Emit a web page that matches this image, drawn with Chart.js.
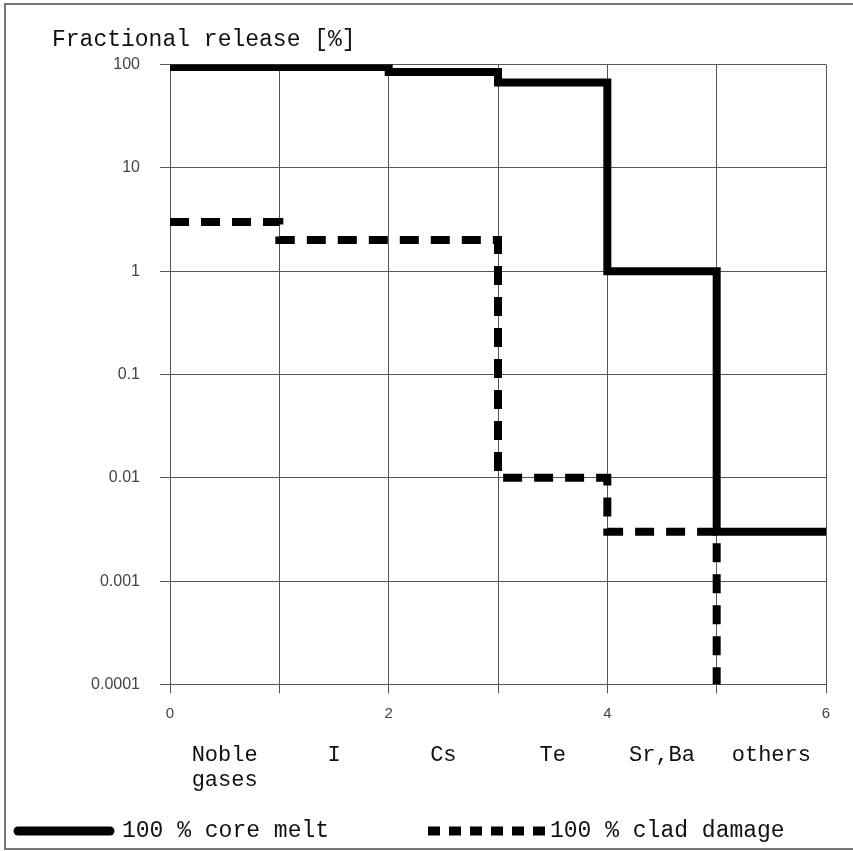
<!DOCTYPE html>
<html>
<head>
<meta charset="utf-8">
<script src="https://cdn.jsdelivr.net/npm/chart.js@4"></script>
<style>
  html, body { margin: 0; padding: 0; background: #fff; }
  #wrap { width: 853px; height: 851px; position: relative; }
</style>
</head>
<body>
<div id="wrap"><canvas id="chart" width="853" height="851"></canvas></div>
<script>
const categories = [['Noble', 'gases'], 'I', 'Cs', 'Te', 'Sr,Ba', 'others'];
const stepX = [0, 1, 2, 3, 4, 5, 6];
const coreMelt = [95, 95, 85, 67, 1, 0.003, 0.003];
const cladDamage = [3, 2, 2, 0.01, 0.003, 0.0001];
const yTicks = [100, 10, 1, 0.1, 0.01, 0.001, 0.0001];
const yTickLabels = ['100', '10', '1', '0.1', '0.01', '0.001', '0.0001'];
const xTickLabels = { 0: '0', 2: '2', 4: '4', 6: '6' };

const mono = "'Liberation Mono', 'DejaVu Sans Mono', monospace";
const sans = "'Liberation Sans', Arial, sans-serif";

// outer frame of the figure
const frame = {
    id: 'frame',
    beforeDraw(chart) {
        const ctx = chart.ctx;
        ctx.save();
        ctx.fillStyle = '#fff';
        ctx.fillRect(0, 0, chart.width, chart.height);
        ctx.strokeStyle = '#777';
        ctx.lineWidth = 2;
        ctx.beginPath();
        ctx.moveTo(853, 4);
        ctx.lineTo(5, 4);
        ctx.lineTo(5, 849);
        ctx.lineTo(853, 849);
        ctx.stroke();
        ctx.restore();
    }
};

// legend row at the bottom: long line samples, text in typewriter font
const legendSlots = [
    { from: 18, to: 110, text: 122, dash: [] },
    { from: 428, to: 545, text: 550, dash: [12, 9] }
];
const bottomLegend = {
    id: 'bottomLegend',
    afterDraw(chart) {
        const ctx = chart.ctx;
        const y = chart.height - 20;
        ctx.save();
        chart.data.datasets.forEach((ds, i) => {
            const slot = legendSlots[i];
            ctx.strokeStyle = ds.borderColor;
            ctx.lineWidth = 9;
            ctx.lineCap = slot.dash.length ? 'butt' : 'round';
            ctx.setLineDash(slot.dash);
            ctx.beginPath();
            ctx.moveTo(slot.from, y);
            ctx.lineTo(slot.to, y);
            ctx.stroke();
            ctx.setLineDash([]);
            ctx.fillStyle = '#111';
            ctx.font = '23px ' + mono;
            ctx.textBaseline = 'middle';
            ctx.fillText(ds.label, slot.text, y);
        });
        ctx.restore();
    }
};

new Chart(document.getElementById('chart').getContext('2d'), {
    type: 'line',
    data: {
        datasets: [{
            label: '100 % core melt',
            data: stepX.map((x, i) => ({ x: x, y: coreMelt[i] })),
            borderColor: '#000',
            backgroundColor: '#000',
            borderWidth: 8,
            stepped: true,
            pointRadius: 0,
            fill: false,
        }, {
            label: '100 % clad damage',
            data: cladDamage.map((v, i) => ({ x: stepX[i], y: v })),
            borderColor: '#000',
            backgroundColor: '#000',
            borderWidth: 8,
            borderDash: [19, 12],
            stepped: true,
            pointRadius: 0,
            fill: false,
        }]
    },
    options: {
        responsive: false,
        animation: false,
        layout: { padding: { left: 52, right: 27, top: 26, bottom: 49 } },
        plugins: {
            title: {
                display: true,
                text: 'Fractional release [%]',
                align: 'start',
                color: '#111',
                font: { family: mono, size: 23, weight: 'normal', lineHeight: 1.2 },
                padding: { top: 0, bottom: 11 }
            },
            legend: { display: false },
            tooltip: { enabled: false }
        },
        scales: {
            x: {
                type: 'linear',
                min: 0,
                max: 6,
                ticks: {
                    stepSize: 1,
                    color: '#444',
                    font: { family: sans, size: 15 },
                    padding: 11,
                    callback: v => xTickLabels[v] !== undefined ? xTickLabels[v] : ''
                },
                grid: { color: '#555', lineWidth: 1, tickLength: 9 },
                border: { color: '#555', width: 1 }
            },
            x2: {
                type: 'category',
                position: 'bottom',
                labels: categories,
                offset: true,
                grid: { display: false, drawTicks: false },
                border: { display: false },
                ticks: {
                    color: '#111',
                    font: { family: mono, size: 22, lineHeight: 1.15 },
                    padding: 9,
                    maxRotation: 0,
                    autoSkip: false
                }
            },
            y: {
                type: 'logarithmic',
                min: 0.0001,
                max: 100,
                afterBuildTicks: scale => {
                    scale.ticks = yTicks.map(v => ({ value: v }));
                },
                afterFit: scale => { scale.width = 118; },
                ticks: {
                    color: '#444',
                    font: { family: sans, size: 16 },
                    padding: 20,
                    callback: (v) => {
                        const i = yTicks.indexOf(v);
                        return i >= 0 ? yTickLabels[i] : '';
                    }
                },
                grid: { color: '#555', lineWidth: 1, tickLength: 10 },
                border: { color: '#555', width: 1 }
            }
        }
    },
    plugins: [frame, bottomLegend]
});
</script>
</body>
</html>
